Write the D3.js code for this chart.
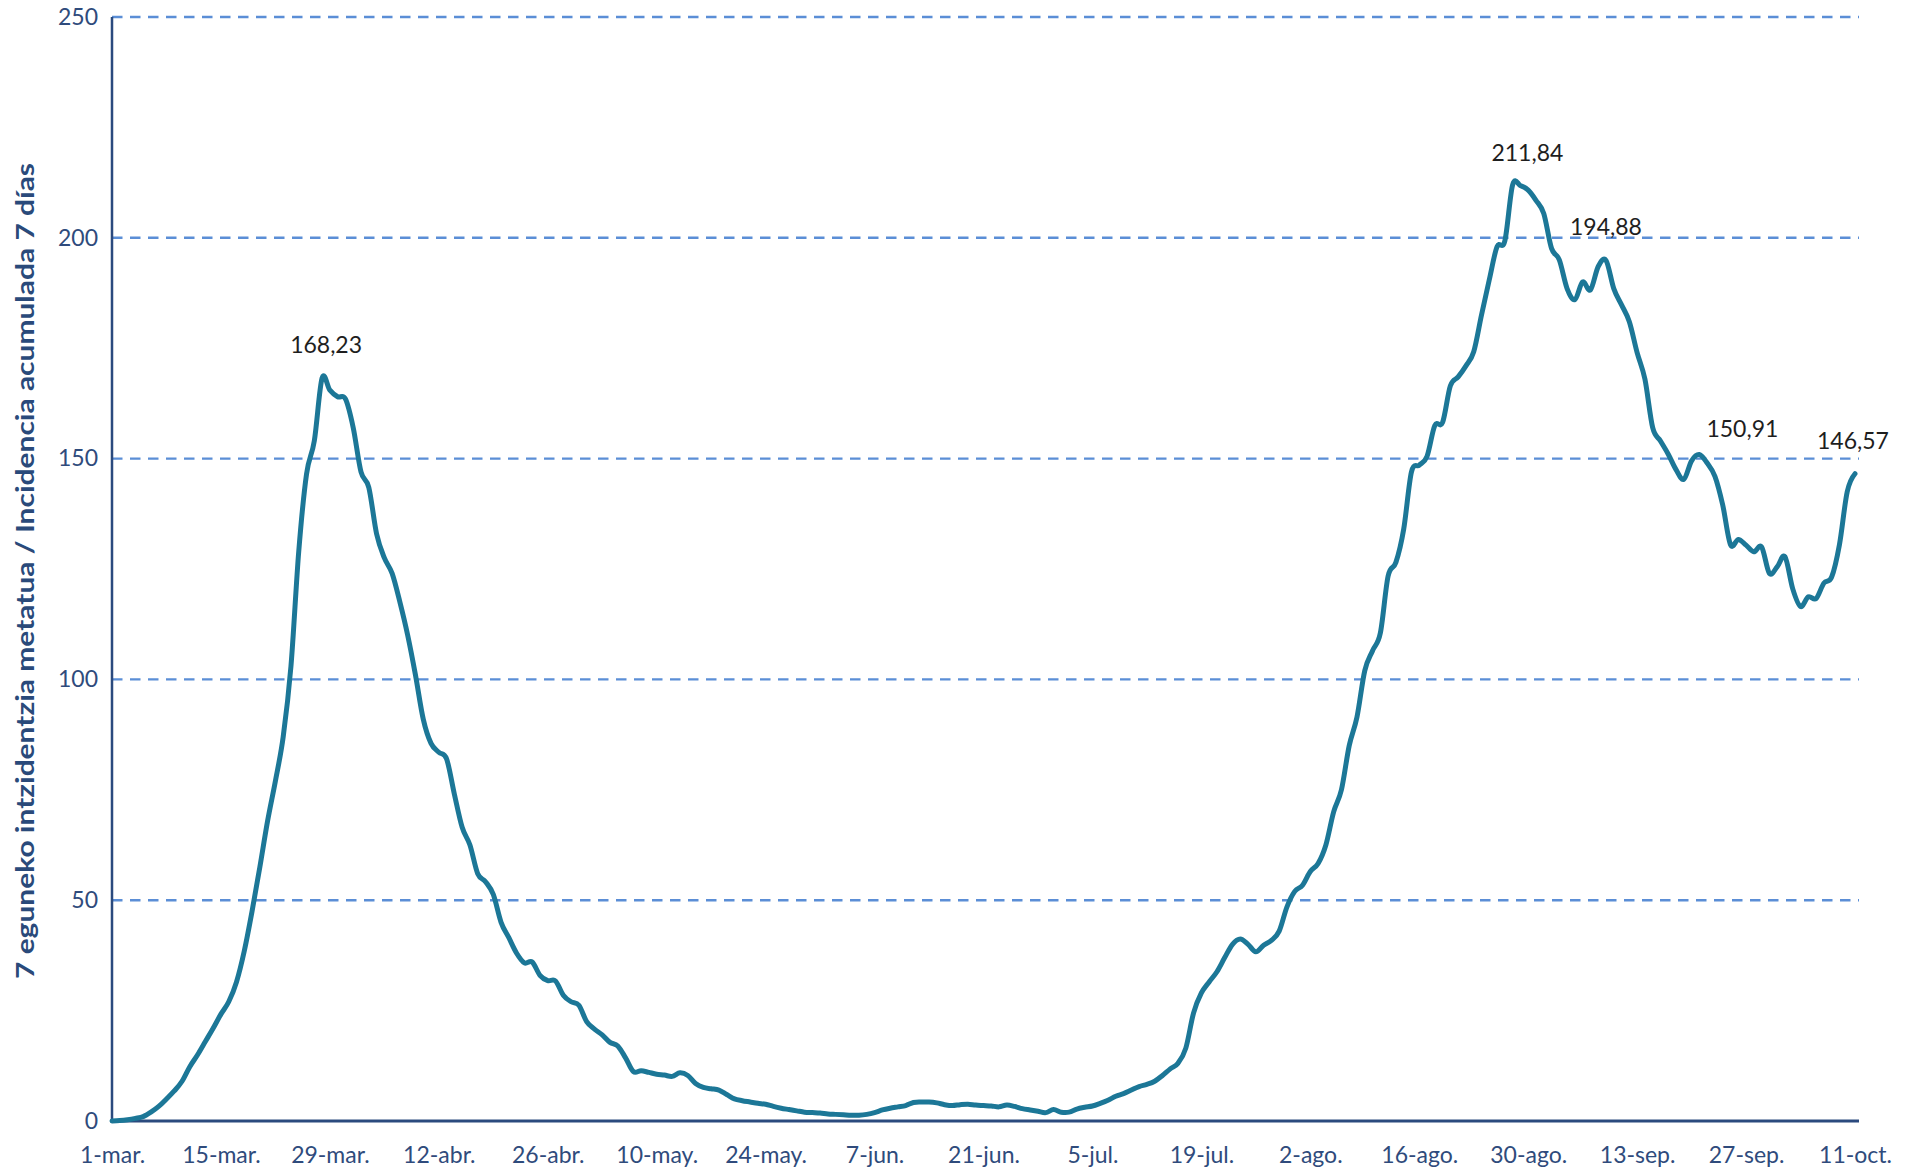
<!DOCTYPE html>
<html>
<head>
<meta charset="utf-8">
<script src="https://cdn.jsdelivr.net/npm/d3@7"></script>
<style>
  body { margin: 0; background: #fff; }
  svg { display: block; font-family: Lato, "Open Sans", sans-serif; }
</style>
</head>
<body>
<div id="chart"></div>
<script>
// 7-day cumulative incidence, daily from 1 March
const startDate = new Date(Date.UTC(2020, 2, 1));
const incidence = [
  0, 0.1, 0.3, 0.6, 1.0, 2.0, 3.3, 5.0, 6.8, 9.0,
  12.3, 15.0, 18.0, 21.0, 24.2, 27.0, 31.5, 38.5, 47.5, 57.5,
  68.0, 77.0, 87.0, 103.0, 129.0, 146.5, 154.0, 168.23, 165.5, 164.0,
  163.5, 157.0, 147.0, 143.5, 133.0, 127.5, 124.0, 117.5, 110.0, 101.0,
  91.0, 85.5, 83.5, 82.0, 74.0, 66.5, 62.5, 56.0, 54.2, 51.3,
  45.0, 41.5, 38.0, 35.8, 36.0, 33.0, 31.8, 31.7, 28.5, 27.0,
  26.2, 22.5, 20.8, 19.5, 17.8, 17.0, 14.3, 11.2, 11.4, 11.0,
  10.6, 10.4, 10.1, 10.9, 10.3, 8.5, 7.6, 7.3, 7.0, 6.0,
  5.0, 4.6, 4.3, 4.0, 3.8, 3.3, 2.9, 2.6, 2.3, 2.0,
  1.9, 1.8, 1.6, 1.5, 1.4, 1.3, 1.3, 1.5, 1.9, 2.5,
  2.9, 3.2, 3.5, 4.2, 4.3, 4.3, 4.1, 3.7, 3.5, 3.7,
  3.8, 3.6, 3.5, 3.4, 3.2, 3.6, 3.3, 2.8, 2.5, 2.2,
  1.9, 2.6, 2.0, 2.0, 2.7, 3.1, 3.4, 4.0, 4.7, 5.6,
  6.2, 7.0, 7.8, 8.3, 9.0, 10.3, 11.8, 13.1, 16.5, 24.5,
  29.0, 31.5, 33.8, 37.0, 40.0, 41.2, 40.0, 38.3, 39.8, 40.9,
  43.0, 48.5, 52.0, 53.4, 56.5, 58.3, 62.5, 70.0, 75.0, 85.0,
  91.5, 102.0, 106.5, 110.5, 123.4, 126.5, 134.0, 147.0, 148.5, 150.5,
  157.5, 158.2, 166.5, 168.5, 171.0, 174.2, 182.5, 190.5, 198.0, 199.3,
  212.0, 211.84, 210.8, 208.5, 205.5, 197.6, 195.0, 188.5, 186.0, 190.0,
  188.2, 193.5, 194.88, 188.5, 184.8, 181.0, 174.0, 168.0, 157.0, 154.0,
  151.0, 147.5, 145.3, 149.5, 150.91, 149.0, 146.0, 139.5, 130.5, 131.7,
  130.4, 128.9, 130.0, 124.0, 125.5, 127.8, 120.5, 116.5, 118.7, 118.3,
  121.8, 123.2, 130.5, 142.5, 146.57
];
const labelDays = [27, 181, 192, 204, 224];
const yTicks = [0, 50, 100, 150, 200, 250];
const monthNames = ["ene", "feb", "mar", "abr", "may", "jun", "jul", "ago", "sep", "oct", "nov", "dic"];
const yTitle = "7 eguneko intzidentzia metatua / Incidencia acumulada 7 días";

const width = 1914,
    height = 1171,
    margin = ({ top: 17, right: 55, bottom: 50, left: 112 });

const svg = d3.select("#chart")
  .append("svg")
  .attr("width", width)
  .attr("height", height)
  .attr("viewBox", [0, 0, width, height]);

let data = incidence.map((v, i) => ({ date: d3.utcDay.offset(startDate, i), value: v }));
let endDate = data[data.length - 1].date;

let x = d3.scaleUtc()
    .domain([startDate, endDate])
    .range([margin.left, 1855]);

let y = d3.scaleLinear()
    .domain([0, 250])
    .range([height - margin.bottom, margin.top]);

let plotRight = width - margin.right;
let axisColor = "#2b4a7e";
let labelColor = "#2f4b7c";

// dashed gridlines
svg.append("g")
  .selectAll("line")
  .data(yTicks.filter(d => d > 0))
  .join("line")
    .attr("x1", margin.left)
    .attr("x2", plotRight)
    .attr("y1", d => y(d))
    .attr("y2", d => y(d))
    .attr("stroke", "#5b8ed6")
    .attr("stroke-width", 2.4)
    .attr("stroke-dasharray", "10.5,7.5");

// y axis labels
svg.append("g")
  .attr("transform", `translate(${margin.left},0)`)
  .call(d3.axisLeft(y).tickValues(yTicks).tickSize(0).tickPadding(14))
  .call(g => g.select(".domain").remove())
  .call(g => g.selectAll("text")
    .attr("font-family", "Lato, sans-serif")
    .attr("font-size", 23)
    .attr("fill", labelColor));

// x axis labels every 14 days
let tickDates = d3.utcDay.range(startDate, d3.utcDay.offset(endDate, 1), 14);
svg.append("g")
  .attr("transform", `translate(0,${y(0)})`)
  .call(d3.axisBottom(x)
    .tickValues(tickDates)
    .tickSize(0)
    .tickPadding(26)
    .tickFormat(d => `${d.getUTCDate()}-${monthNames[d.getUTCMonth()]}.`))
  .call(g => g.select(".domain").remove())
  .call(g => g.selectAll("text")
    .attr("font-family", "Lato, sans-serif")
    .attr("font-size", 23)
    .attr("fill", labelColor));

// axis lines
svg.append("line")
  .attr("x1", margin.left).attr("x2", margin.left)
  .attr("y1", y(250)).attr("y2", y(0))
  .attr("stroke", axisColor).attr("stroke-width", 2.5);

svg.append("line")
  .attr("x1", margin.left).attr("x2", plotRight)
  .attr("y1", y(0)).attr("y2", y(0))
  .attr("stroke", axisColor).attr("stroke-width", 3);

// y title
svg.append("text")
  .attr("transform", `translate(34,${(y(0) + y(250)) / 2 + 2}) rotate(-90)`)
  .attr("text-anchor", "middle")
  .attr("font-family", "Lato, sans-serif")
  .attr("font-weight", "bold")
  .attr("font-size", 25)
  .attr("fill", "#2a4a7a")
  .attr("textLength", 816)
  .attr("lengthAdjust", "spacingAndGlyphs")
  .text(yTitle);

// smoothed line
let line = d3.line()
    .x(d => x(d.date))
    .y(d => y(d.value))
    .curve(d3.curveCardinal.tension(0));

svg.append("path")
  .datum(data)
  .attr("d", line)
  .attr("fill", "none")
  .attr("stroke", "#1c7797")
  .attr("stroke-width", 5)
  .attr("stroke-linejoin", "round")
  .attr("stroke-linecap", "round");

// data labels
let es = d3.formatLocale({ decimal: ",", thousands: ".", grouping: [3], currency: ["", " €"] });
let fmt = es.format(".2f");
let shift = { 27: [4, 0], 181: [7, 0], 192: [0, 0], 204: [43, 7], 224: [-2, 0] };

svg.append("g")
  .selectAll("text")
  .data(labelDays.map(i => data[i]))
  .join("text")
    .attr("x", (d, i) => x(d.date) + shift[labelDays[i]][0])
    .attr("y", (d, i) => y(d.value) - 25 + shift[labelDays[i]][1])
    .attr("text-anchor", "middle")
    .attr("font-family", "Lato, sans-serif")
    .attr("font-size", 23)
    .attr("fill", "#1e1e1e")
    .text(d => fmt(d.value));
</script>
</body>
</html>
